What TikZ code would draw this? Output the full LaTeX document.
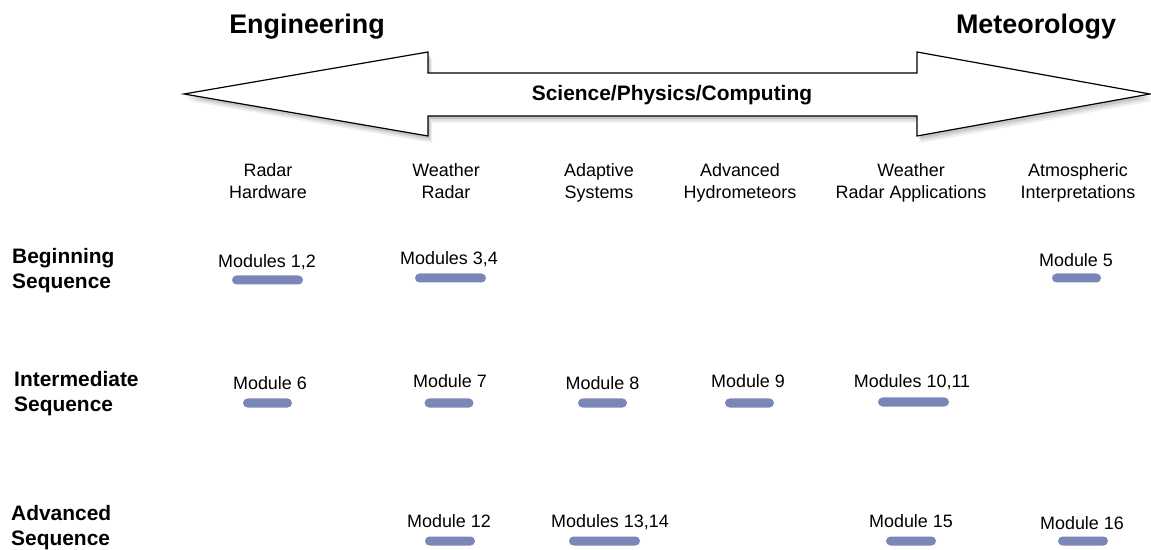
\documentclass[tikz,border=0pt]{standalone}
\usepackage{fontspec}
\setmainfont{Liberation Sans}
\definecolor{barc}{RGB}{123,134,184}
\tikzset{
  hdr/.style={font=\fontsize{18}{22}\selectfont, align=center, inner sep=0pt},
  modlbl/.style={font=\fontsize{18}{22}\selectfont, inner sep=0pt, text height=13bp, text depth=0pt},
  rowlbl/.style={font=\fontsize{21}{25}\selectfont\bfseries, align=left, anchor=west, inner sep=0pt},
  bigt/.style={font=\fontsize{27}{32}\selectfont\bfseries, inner sep=0pt, text height=19.3bp, text depth=0pt},
  midt/.style={font=\fontsize{21}{25}\selectfont\bfseries, inner sep=0pt, text height=15bp, text depth=0pt},
  barbox/.style={fill=barc, draw=none, rounded corners=4.5bp, minimum height=9bp, inner sep=0pt},
}
\begin{document}
\begin{tikzpicture}[x=1bp,y=-1bp]
\useasboundingbox (0,0) rectangle (1151,550);
% shadow of the double arrow
\foreach \dx/\dy/\op in {2/3/0.10,3/5/0.08,4/7/0.06}{
  \fill[black,opacity=\op,shift={(\dx,\dy)}]
    (184,94) -- (428,52) -- (428,73) -- (917,73) -- (917,52) -- (1150,94)
    -- (917,136) -- (917,116) -- (428,116) -- (428,136) -- cycle;
}
% double arrow
\draw[fill=white, line width=1.2bp, line join=miter]
  (184,94) -- (428,52) -- (428,73) -- (917,73) -- (917,52) -- (1150,94)
  -- (917,136) -- (917,116) -- (428,116) -- (428,136) -- cycle;
\node[midt] (sci) at (672,93) {Science/Physics/Computing};
\node[bigt] (eng) at (307,23.5) {Engineering};
\node[bigt] (met) at (1036,23.5) {Meteorology};
% column headers
\node[hdr] (h1) at (268,181) {Radar\\Hardware};
\node[hdr] (h2) at (446,181) {Weather\\Radar};
\node[hdr] (h3) at (599,183) {Adaptive\\Systems};
\node[hdr] (h4) at (740,183) {Advanced\\Hydrometeors};
\node[hdr] (h5) at (911,183) {Weather\\Radar Applications};
\node[hdr] (h6) at (1078,183) {Atmospheric\\Interpretations};
% row labels
\node[rowlbl] (r1) at (12,270.5) {Beginning\\Sequence};
\node[rowlbl] (r2) at (14,394) {Intermediate\\Sequence};
\node[rowlbl] (r3) at (11,528) {Advanced\\Sequence};
% modules, row 1
\node[modlbl] (m12) at (267,261) {Modules 1,2};
\node[barbox, minimum width=71bp] (b12) at (267.5,280) {};
\node[modlbl] (m34) at (449,258) {Modules 3,4};
\node[barbox, minimum width=71bp] (b34) at (450.5,278) {};
\node[modlbl] (m5) at (1076,260) {Module 5};
\node[barbox, minimum width=49bp] (b5) at (1076.5,278) {};
% row 2
\node[modlbl] (m6) at (270,383) {Module 6};
\node[barbox, minimum width=49bp] (b6) at (267.5,403) {};
\node[modlbl] (m7) at (450,381) {Module 7};
\node[barbox, minimum width=49bp] (b7) at (449,403) {};
\node[modlbl] (m8) at (602.5,383) {Module 8};
\node[barbox, minimum width=49bp] (b8) at (602.5,403) {};
\node[modlbl] (m9) at (748,381) {Module 9};
\node[barbox, minimum width=49bp] (b9) at (749.5,403) {};
\node[modlbl] (m1011) at (912,381) {Modules 10,11};
\node[barbox, minimum width=71bp] (b1011) at (913.5,402) {};
% row 3
\node[modlbl] (m12b) at (449,521) {Module 12};
\node[barbox, minimum width=50bp] (b12b) at (450,541) {};
\node[modlbl] (m1314) at (610,521) {Modules 13,14};
\node[barbox, minimum width=71bp] (b1314) at (604.5,541) {};
\node[modlbl] (m15) at (911,521) {Module 15};
\node[barbox, minimum width=50bp] (b15) at (911,541) {};
\node[modlbl] (m16) at (1082,523) {Module 16};
\node[barbox, minimum width=50bp] (b16) at (1083,541) {};
\end{tikzpicture}
\end{document}
